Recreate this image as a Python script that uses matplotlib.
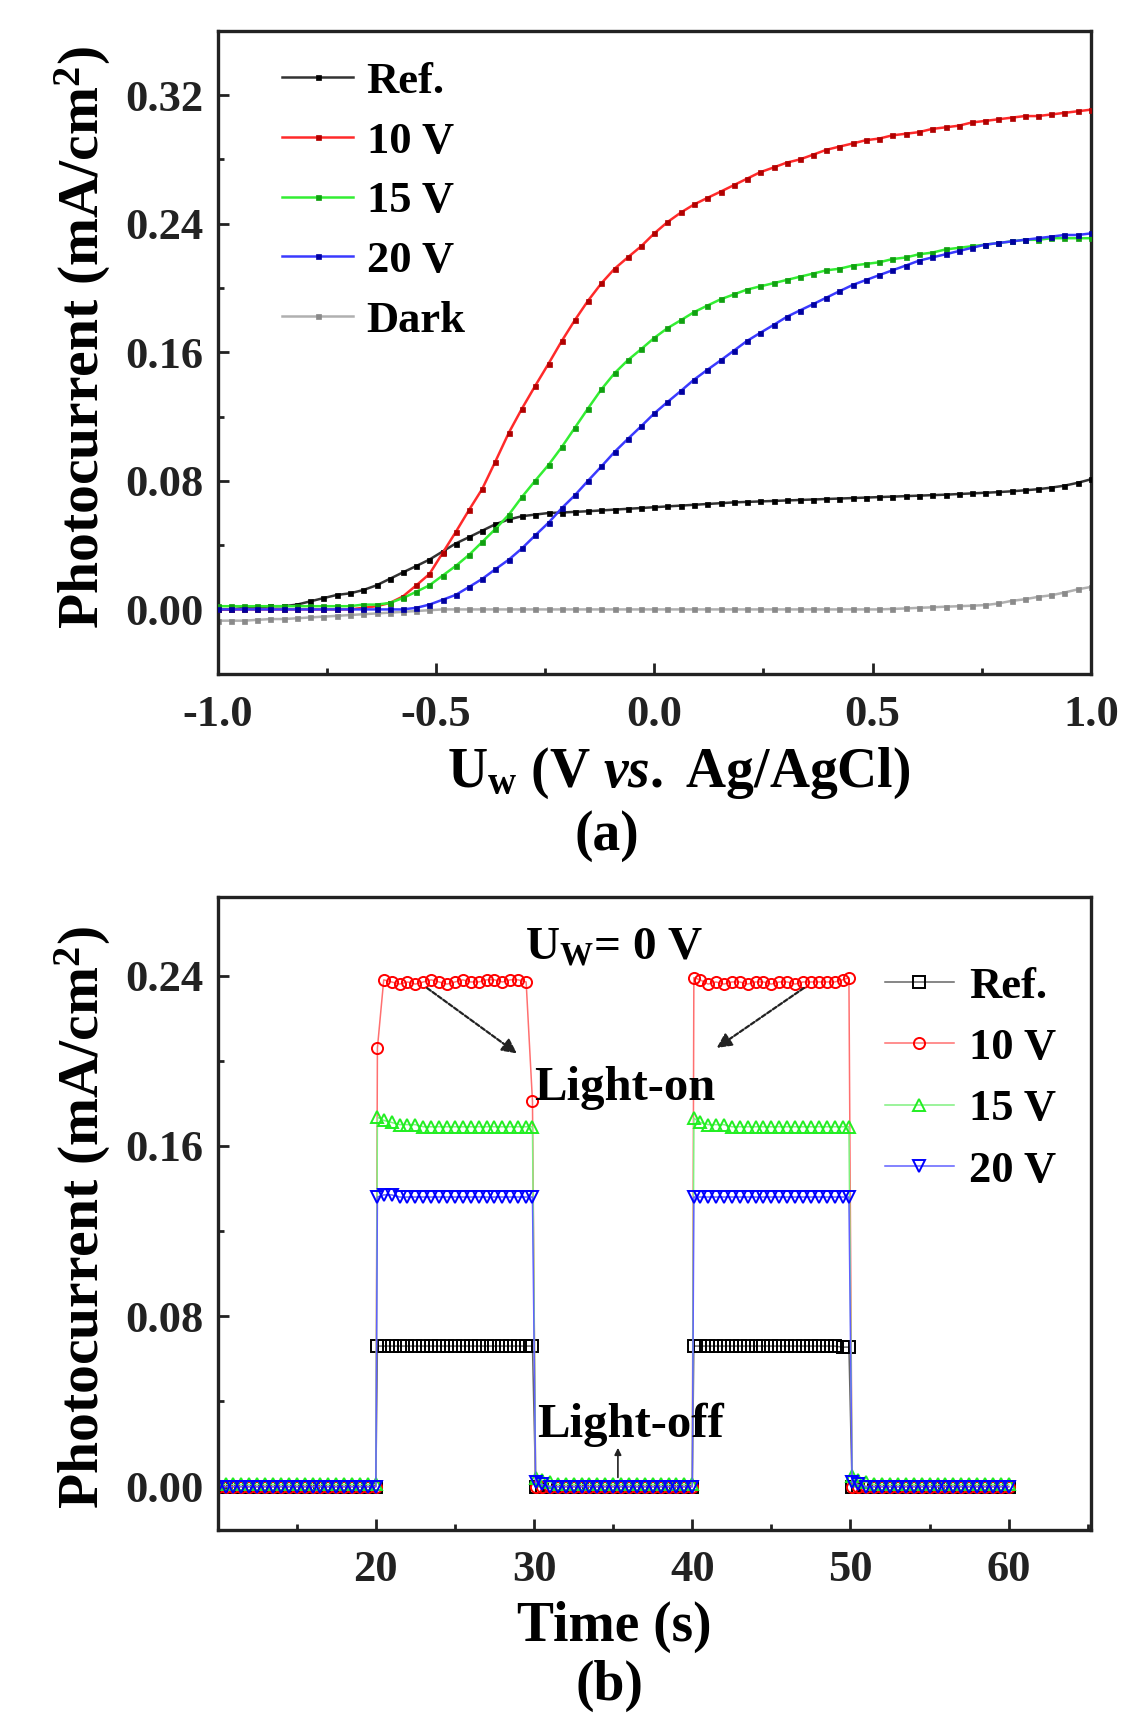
import numpy as np
import matplotlib
matplotlib.use("Agg")
import matplotlib.pyplot as plt
from matplotlib.ticker import MultipleLocator, FormatStrFormatter

plt.rcParams['font.family'] = ['Liberation Serif', 'DejaVu Serif']
plt.rcParams['font.weight'] = 'bold'
plt.rcParams['mathtext.fontset'] = 'custom'
plt.rcParams['mathtext.rm'] = 'Liberation Serif:bold'
plt.rcParams['mathtext.it'] = 'Liberation Serif:bold:italic'
plt.rcParams['mathtext.bf'] = 'Liberation Serif:bold'

# ---------------- panel (a) data ----------------
potential = [-1.000, -0.970, -0.939, -0.909, -0.879, -0.848, -0.818, -0.788, -0.758, -0.727,
             -0.697, -0.667, -0.636, -0.606, -0.576, -0.545, -0.515, -0.485, -0.455, -0.424,
             -0.394, -0.364, -0.333, -0.303, -0.273, -0.242, -0.212, -0.182, -0.152, -0.121,
             -0.091, -0.061, -0.030, 0.000, 0.030, 0.061, 0.091, 0.121, 0.152, 0.182,
             0.212, 0.242, 0.273, 0.303, 0.333, 0.364, 0.394, 0.424, 0.455, 0.485,
             0.515, 0.545, 0.576, 0.606, 0.636, 0.667, 0.697, 0.727, 0.758, 0.788,
             0.818, 0.848, 0.879, 0.909, 0.939, 0.970, 1.000]

ref_a = [0.000, 0.000, 0.001, 0.001, 0.002, 0.002, 0.003, 0.005, 0.007, 0.009,
         0.010, 0.012, 0.015, 0.019, 0.023, 0.027, 0.031, 0.036, 0.041, 0.045,
         0.049, 0.053, 0.056, 0.058, 0.059, 0.060, 0.0603, 0.0607, 0.0611, 0.0616,
         0.0621, 0.0626, 0.0631, 0.0636, 0.0641, 0.0646, 0.0651, 0.0656, 0.0661, 0.0666,
         0.0669, 0.0672, 0.0675, 0.0678, 0.0681, 0.0684, 0.0687, 0.0690, 0.0693, 0.0696,
         0.0699, 0.0702, 0.0705, 0.0708, 0.0711, 0.0714, 0.0718, 0.0722, 0.0726, 0.0730,
         0.0735, 0.0741, 0.0748, 0.0758, 0.0770, 0.0788, 0.0810]

v10_a = [0.000, 0.000, 0.000, 0.000, 0.000, 0.000, 0.000, 0.000, 0.000, 0.000,
         0.000, 0.001, 0.002, 0.004, 0.008, 0.015, 0.022, 0.035, 0.048, 0.062,
         0.075, 0.092, 0.110, 0.125, 0.139, 0.153, 0.167, 0.180, 0.192, 0.203,
         0.212, 0.219, 0.226, 0.234, 0.241, 0.247, 0.252, 0.256, 0.260, 0.264,
         0.268, 0.272, 0.275, 0.278, 0.280, 0.283, 0.286, 0.288, 0.290, 0.292,
         0.293, 0.295, 0.296, 0.297, 0.299, 0.300, 0.301, 0.303, 0.304, 0.305,
         0.306, 0.307, 0.307, 0.308, 0.309, 0.310, 0.311]

v15_a = [0.002, 0.002, 0.002, 0.002, 0.002, 0.002, 0.002, 0.002, 0.002, 0.002,
         0.002, 0.003, 0.003, 0.004, 0.007, 0.011, 0.015, 0.021, 0.027, 0.034,
         0.042, 0.050, 0.059, 0.070, 0.080, 0.090, 0.101, 0.113, 0.125, 0.137,
         0.147, 0.155, 0.162, 0.169, 0.175, 0.180, 0.185, 0.189, 0.193, 0.196,
         0.199, 0.201, 0.203, 0.205, 0.207, 0.209, 0.211, 0.212, 0.214, 0.215,
         0.216, 0.218, 0.219, 0.221, 0.222, 0.224, 0.225, 0.226, 0.227, 0.228,
         0.229, 0.230, 0.230, 0.231, 0.231, 0.231, 0.231]

v20_a = [0.000, 0.000, 0.000, 0.000, 0.000, 0.000, 0.000, 0.000, 0.000, 0.000,
         0.000, 0.000, 0.000, 0.000, 0.000, 0.001, 0.003, 0.006, 0.009, 0.014,
         0.019, 0.025, 0.031, 0.038, 0.046, 0.054, 0.063, 0.071, 0.080, 0.089,
         0.098, 0.106, 0.114, 0.122, 0.129, 0.136, 0.143, 0.149, 0.155, 0.161,
         0.167, 0.172, 0.177, 0.182, 0.186, 0.190, 0.194, 0.198, 0.202, 0.205,
         0.208, 0.211, 0.214, 0.217, 0.219, 0.221, 0.223, 0.225, 0.227, 0.228,
         0.229, 0.230, 0.231, 0.232, 0.233, 0.233, 0.234]

dark_a = [-0.007, -0.007, -0.007, -0.0065, -0.006, -0.006, -0.0055, -0.005, -0.0045, -0.004,
          -0.0035, -0.003, -0.0025, -0.002, -0.0015, -0.001, -0.0005, 0.000, 0.000, 0.000,
          0.000, 0.000, 0.000, 0.000, 0.000, 0.000, 0.000, 0.000, 0.000, 0.000,
          0.000, 0.000, 0.000, 0.000, 0.000, 0.000, 0.000, 0.000, 0.000, 0.000,
          0.000, 0.000, 0.000, 0.000, 0.000, 0.000, 0.000, 0.000, 0.000, 0.000,
          0.000, 0.0003, 0.0006, 0.001, 0.0013, 0.0017, 0.002, 0.0023, 0.0027, 0.0037,
          0.0053, 0.0063, 0.0078, 0.0088, 0.0105, 0.0125, 0.0140]

labels_a = ['Ref.', '10 V', '15 V', '20 V', 'Dark']

# ---------------- panel (b) data ----------------
time_s = [10.0, 10.5, 11.0, 11.5, 12.0, 12.5, 13.0, 13.5, 14.0, 14.5, 15.0, 15.5, 16.0, 16.5,
          17.0, 17.5, 18.0, 18.5, 19.0, 19.5, 20.0,
          20.1, 20.5, 21.0, 21.5, 22.0, 22.5, 23.0, 23.5, 24.0, 24.5, 25.0, 25.5, 26.0, 26.5,
          27.0, 27.5, 28.0, 28.5, 29.0, 29.5, 29.9,
          30.1, 30.5, 31.0, 31.5, 32.0, 32.5, 33.0, 33.5, 34.0, 34.5, 35.0, 35.5, 36.0, 36.5,
          37.0, 37.5, 38.0, 38.5, 39.0, 39.5, 40.0,
          40.1, 40.5, 41.0, 41.5, 42.0, 42.5, 43.0, 43.5, 44.0, 44.5, 45.0, 45.5, 46.0, 46.5,
          47.0, 47.5, 48.0, 48.5, 49.0, 49.5, 49.9,
          50.1, 50.5, 51.0, 51.5, 52.0, 52.5, 53.0, 53.5, 54.0, 54.5, 55.0, 55.5, 56.0, 56.5,
          57.0, 57.5, 58.0, 58.5, 59.0, 59.5, 60.0]

ref_b = [0.000, 0.000, 0.000, 0.000, 0.000, 0.000, 0.000, 0.000, 0.000, 0.000, 0.000, 0.000, 0.000, 0.000,
         0.000, 0.000, 0.000, 0.000, 0.000, 0.000, 0.000,
         0.066, 0.066, 0.066, 0.066, 0.066, 0.066, 0.066, 0.066, 0.066, 0.066, 0.066, 0.066, 0.066, 0.066,
         0.066, 0.066, 0.066, 0.066, 0.066, 0.066, 0.066,
         0.000, 0.000, 0.000, 0.000, 0.000, 0.000, 0.000, 0.000, 0.000, 0.000, 0.000, 0.000, 0.000, 0.000,
         0.000, 0.000, 0.000, 0.000, 0.000, 0.000, 0.000,
         0.066, 0.066, 0.066, 0.066, 0.066, 0.066, 0.066, 0.066, 0.066, 0.066, 0.066, 0.066, 0.066, 0.066,
         0.066, 0.066, 0.066, 0.066, 0.066, 0.0655, 0.0655,
         0.000, 0.000, 0.000, 0.000, 0.000, 0.000, 0.000, 0.000, 0.000, 0.000, 0.000, 0.000, 0.000, 0.000,
         0.000, 0.000, 0.000, 0.000, 0.000, 0.000, 0.000]

v10_b = [0.000, 0.000, 0.000, 0.000, 0.000, 0.000, 0.000, 0.000, 0.000, 0.000, 0.000, 0.000, 0.000, 0.000,
         0.000, 0.000, 0.000, 0.000, 0.000, 0.000, 0.000,
         0.206, 0.238, 0.237, 0.236, 0.237, 0.236, 0.237, 0.238, 0.237, 0.236, 0.237, 0.238, 0.237, 0.237,
         0.238, 0.238, 0.237, 0.238, 0.238, 0.237, 0.181,
         0.000, 0.000, 0.000, 0.000, 0.000, 0.000, 0.000, 0.000, 0.000, 0.000, 0.000, 0.000, 0.000, 0.000,
         0.000, 0.000, 0.000, 0.000, 0.000, 0.000, 0.000,
         0.239, 0.238, 0.236, 0.237, 0.236, 0.237, 0.237, 0.236, 0.237, 0.237, 0.236, 0.237, 0.237, 0.236,
         0.237, 0.237, 0.237, 0.237, 0.237, 0.238, 0.239,
         0.000, 0.000, 0.000, 0.000, 0.000, 0.000, 0.000, 0.000, 0.000, 0.000, 0.000, 0.000, 0.000, 0.000,
         0.000, 0.000, 0.000, 0.000, 0.000, 0.000, 0.000]

v15_b = [0.001, 0.001, 0.001, 0.001, 0.001, 0.001, 0.001, 0.001, 0.001, 0.001, 0.001, 0.001, 0.001, 0.001,
         0.001, 0.001, 0.001, 0.001, 0.001, 0.001, 0.001,
         0.1735, 0.172, 0.171, 0.170, 0.170, 0.170, 0.169, 0.169, 0.169, 0.169, 0.169, 0.169, 0.169, 0.169,
         0.169, 0.169, 0.169, 0.169, 0.169, 0.169, 0.169,
         0.004, 0.003, 0.002, 0.001, 0.001, 0.001, 0.001, 0.001, 0.001, 0.001, 0.001, 0.001, 0.001, 0.001,
         0.001, 0.001, 0.001, 0.001, 0.001, 0.001, 0.001,
         0.173, 0.171, 0.170, 0.170, 0.170, 0.169, 0.169, 0.169, 0.169, 0.169, 0.169, 0.169, 0.169, 0.169,
         0.169, 0.169, 0.169, 0.169, 0.169, 0.169, 0.169,
         0.005, 0.003, 0.002, 0.001, 0.001, 0.001, 0.001, 0.001, 0.001, 0.001, 0.001, 0.001, 0.001, 0.001,
         0.001, 0.001, 0.001, 0.001, 0.001, 0.001, 0.001]

v20_b = [0.000, 0.000, 0.000, 0.000, 0.000, 0.000, 0.000, 0.000, 0.000, 0.000, 0.000, 0.000, 0.000, 0.000,
         0.000, 0.000, 0.000, 0.000, 0.000, 0.000, 0.000,
         0.136, 0.137, 0.137, 0.136, 0.136, 0.136, 0.136, 0.136, 0.136, 0.136, 0.136, 0.136, 0.136, 0.136,
         0.136, 0.136, 0.136, 0.136, 0.136, 0.136, 0.136,
         0.002, 0.001, 0.000, 0.000, 0.000, 0.000, 0.000, 0.000, 0.000, 0.000, 0.000, 0.000, 0.000, 0.000,
         0.000, 0.000, 0.000, 0.000, 0.000, 0.000, 0.000,
         0.136, 0.136, 0.136, 0.136, 0.136, 0.136, 0.136, 0.136, 0.136, 0.136, 0.136, 0.136, 0.136, 0.136,
         0.136, 0.136, 0.136, 0.136, 0.136, 0.136, 0.136,
         0.002, 0.001, 0.000, 0.000, 0.000, 0.000, 0.000, 0.000, 0.000, 0.000, 0.000, 0.000, 0.000, 0.000,
         0.000, 0.000, 0.000, 0.000, 0.000, 0.000, 0.000]

labels_b = ['Ref.', '10 V', '15 V', '20 V']

# ---------------- figure ----------------
W, H = 1142, 1732
fig = plt.figure(figsize=(W / 100, H / 100), dpi=100)

def fx(px):
    return px / W

def fy(py):
    return 1 - py / H

ax1 = fig.add_axes([fx(217.6), fy(673.7), fx(1091) - fx(217.6), fy(30.9) - fy(673.7)])
ax2 = fig.add_axes([fx(217.6), fy(1529.6), fx(1091) - fx(217.6), fy(896.8) - fy(1529.6)])

TICK_FS = 32
LEG_FS = 32
LAB_FS = 40

def style_axes(ax):
    for sp in ax.spines.values():
        sp.set_linewidth(2.4)
        sp.set_color('#222222')
    ax.tick_params(which='both', direction='in', width=2.0, colors='#222222',
                   top=False, right=False, labelsize=TICK_FS)
    ax.tick_params(which='major', length=8)
    ax.tick_params(which='minor', length=4.5)
    ax.tick_params(axis='y', pad=10)
    ax.tick_params(axis='x', pad=15)
    for lab in ax.get_xticklabels() + ax.get_yticklabels():
        lab.set_fontweight('bold')

# panel (a)
line_cols = ['#333333', '#ff2a2a', '#33ee33', '#3a3aff', '#b0b0b0']
mark_cols = ['#000000', '#b00000', '#10a010', '#0000a0', '#8a8a8a']
series_a = [ref_a, v10_a, v15_a, v20_a, dark_a]
zorders = [3, 4, 5, 6, 2]
for ys, lab, lc, mc, z in zip(series_a, labels_a, line_cols, mark_cols, zorders):
    ax1.plot(potential, ys, '-', color=lc, lw=1.8, marker='s', markersize=3.6,
             markerfacecolor=mc, markeredgecolor=mc, markeredgewidth=0.5,
             label=lab, zorder=z)

ax1.set_xlim(-1.0, 1.0)
ax1.set_ylim(-0.04, 0.36)
ax1.xaxis.set_major_locator(MultipleLocator(0.5))
ax1.xaxis.set_minor_locator(MultipleLocator(0.25))
ax1.yaxis.set_major_locator(MultipleLocator(0.08))
ax1.yaxis.set_minor_locator(MultipleLocator(0.04))
ax1.xaxis.set_major_formatter(FormatStrFormatter('%.1f'))
ax1.yaxis.set_major_formatter(FormatStrFormatter('%.2f'))
style_axes(ax1)

leg1 = ax1.legend(loc='upper left', bbox_to_anchor=(0.074, 0.952), frameon=False,
                  prop={'family': 'Liberation Serif', 'weight': 'bold', 'size': LEG_FS},
                  handlelength=1.6, handletextpad=0.3, labelspacing=0.44,
                  borderpad=0, borderaxespad=0, numpoints=1)

# panel (b)
bcols = ['#000000', '#ff0000', '#22ee22', '#0000ff']
blcols = ['#666666', '#ff7070', '#80f080', '#6060ff']
bmarks = ['s', 'o', '^', 'v']
series_b = [ref_b, v10_b, v15_b, v20_b]
for ys, lab, c, lc, m in zip(series_b, labels_b, bcols, blcols, bmarks):
    ax2.plot(time_s, ys, '-', color=lc, lw=1.1, marker=m, markersize=8,
             markerfacecolor='none', markeredgecolor=c, markeredgewidth=1.4, label=lab)

ax2.set_xlim(10.0, 65.2)
ax2.set_ylim(-0.0202, 0.277)
ax2.xaxis.set_major_locator(MultipleLocator(10))
ax2.xaxis.set_minor_locator(MultipleLocator(5))
ax2.yaxis.set_major_locator(MultipleLocator(0.08))
ax2.yaxis.set_minor_locator(MultipleLocator(0.04))
ax2.yaxis.set_major_formatter(FormatStrFormatter('%.2f'))
ax2.set_xticks([20, 30, 40, 50, 60])
style_axes(ax2)

leg2 = ax2.legend(loc='upper left', bbox_to_anchor=(0.764, 0.89), frameon=False,
                  prop={'family': 'Liberation Serif', 'weight': 'bold', 'size': LEG_FS},
                  handlelength=1.55, handletextpad=0.35, labelspacing=0.48,
                  borderpad=0, borderaxespad=0, numpoints=1)

# annotations in panel (b)
ax2.text(29.4, 0.253, r'U$_{\rm W}$= 0 V', fontsize=34, fontweight='bold',
         ha='left', va='center')
ax2.text(30.0, 0.187, 'Light-on', fontsize=35, fontweight='bold', ha='left', va='center')
ax2.text(30.2, 0.029, 'Light-off', fontsize=35, fontweight='bold', ha='left', va='center')
arrow_kw = dict(arrowstyle='-|>', color='#222222', lw=1.6, mutation_scale=22,
                linestyle=(0, (2, 1)))
ax2.annotate('', xy=(29.06, 0.2027), xytext=(23.1, 0.2349), arrowprops=arrow_kw)
ax2.annotate('', xy=(41.4, 0.2053), xytext=(47.2, 0.2349), arrowprops=arrow_kw)
ax2.annotate('', xy=(35.3, 0.0195), xytext=(35.3, 0.003),
             arrowprops=dict(arrowstyle='-|>', color='#222222', lw=1.2, mutation_scale=10))

# axis labels and panel letters
fig.text(fx(83), fy(337), r'Photocurrent (mA/cm$^{\rm 2}$)', rotation=90,
         fontsize=41.5, fontweight='bold', ha='center', va='center')
fig.text(fx(83), fy(1217), r'Photocurrent (mA/cm$^{\rm 2}$)', rotation=90,
         fontsize=41.5, fontweight='bold', ha='center', va='center')
fig.text(fx(679), fy(773), r'U$_{\rm w}$ (V $\it{vs.}$ Ag/AgCl)',
         fontsize=LAB_FS, fontweight='bold', ha='center', va='center')
fig.text(fx(607), fy(836), '(a)', fontsize=LAB_FS, fontweight='bold', ha='center', va='center')
fig.text(fx(614), fy(1627), 'Time (s)', fontsize=LAB_FS, fontweight='bold',
         ha='center', va='center')
fig.text(fx(610), fy(1686), '(b)', fontsize=LAB_FS, fontweight='bold', ha='center', va='center')

fig.savefig('out.png', dpi=100, facecolor='white')
